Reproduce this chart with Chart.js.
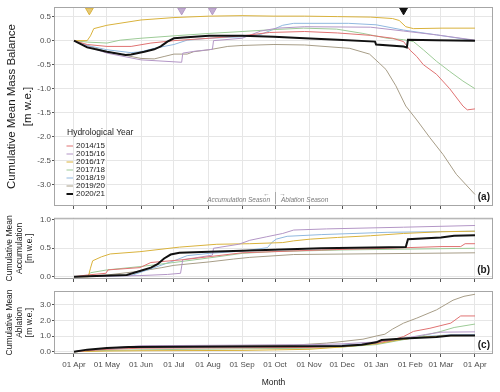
<!DOCTYPE html>
<html>
<head>
<meta charset="utf-8">
<script src="https://cdn.jsdelivr.net/npm/chart.js@4.4.1/dist/chart.umd.min.js"></script>
<style>
  html, body { margin: 0; padding: 0; background: #fff; }
  #wrap { position: relative; width: 500px; height: 392px; }
  .panel { position: absolute; left: 0; width: 500px; }
</style>
</head>
<body>
<div id="wrap">
  <div class="panel" style="top:0;height:212px"><canvas id="balanceChart"></canvas></div>
  <div class="panel" style="top:212px;height:73px"><canvas id="accumChart"></canvas></div>
  <div class="panel" style="top:285px;height:107px"><canvas id="ablationChart"></canvas></div>
</div>
<script>
// hydrological years and axis ticks
const years = ['2014/15', '2015/16', '2016/17', '2017/18', '2018/19', '2019/20', '2020/21'];
const monthDays = [0, 30, 61, 91, 122, 153, 183, 214, 244, 275, 306, 334, 365];
const monthLabels = ['01 Apr', '01 May', '01 Jun', '01 Jul', '01 Aug', '01 Sep', '01 Oct',
                     '01 Nov', '01 Dec', '01 Jan', '01 Feb', '01 Mar', '01 Apr'];
const balanceTicks = [-3, -2.5, -2, -1.5, -1, -0.5, 0, 0.5];
const accumTicks = [0, 0.5, 1];
const ablationTicks = [0, 1, 2, 3];

// days since 01 Apr -> cumulative mean mass balance [m w.e.]
const balanceDays = [
  [0, 12, 30, 52, 70, 91, 123, 153, 178, 210, 240, 270, 290, 300, 306, 312, 318, 330, 342, 354, 358, 365],
  [0, 12, 30, 61, 91, 98, 99, 110, 126, 127, 153, 170, 185, 210, 270, 300, 330, 365],
  [0, 12, 15, 18, 30, 61, 91, 123, 153, 182, 210, 240, 270, 290, 296, 302, 309, 335, 365],
  [0, 12, 30, 42, 61, 91, 123, 153, 182, 209, 239, 263, 285, 300, 309, 318, 330, 342, 354, 365],
  [0, 12, 30, 52, 61, 73, 91, 103, 123, 153, 170, 180, 190, 200, 250, 275, 300, 330, 365],
  [0, 12, 30, 61, 73, 82, 91, 103, 109, 123, 140, 153, 182, 210, 251, 269, 278, 284, 293, 302, 312, 324, 336, 348, 365],
  [0, 12, 30, 47, 52, 64, 73, 79, 85, 91, 103, 123, 153, 182, 210, 240, 274, 275, 300, 303, 304, 330, 365]
];
const balanceValues = [
  [0, -0.08, -0.12, -0.12, -0.05, 0.0, 0.05, 0.1, 0.17, 0.19, 0.16, 0.11, 0.05, -0.02, -0.2, -0.33, -0.5, -0.7, -1.0, -1.36, -1.44, -1.42],
  [0, -0.12, -0.26, -0.4, -0.44, -0.45, -0.26, -0.22, -0.18, 0.0, 0.05, 0.2, 0.26, 0.29, 0.28, 0.2, 0.12, 0.01],
  [0, 0.0, 0.1, 0.25, 0.32, 0.43, 0.48, 0.51, 0.52, 0.51, 0.51, 0.5, 0.49, 0.46, 0.42, 0.29, 0.25, 0.26, 0.26],
  [0, -0.03, -0.05, 0.01, 0.05, 0.1, 0.15, 0.19, 0.23, 0.26, 0.24, 0.15, 0.05, 0.02, -0.02, -0.19, -0.43, -0.64, -0.84, -1.0],
  [0, -0.1, -0.19, -0.25, -0.23, -0.16, -0.08, 0.01, 0.05, 0.08, 0.13, 0.22, 0.32, 0.36, 0.36, 0.33, 0.22, 0.12, 0.0],
  [0, -0.1, -0.23, -0.37, -0.38, -0.33, -0.28, -0.28, -0.23, -0.19, -0.12, -0.1, -0.08, -0.09, -0.16, -0.28, -0.47, -0.6, -0.94, -1.36, -1.65, -2.02, -2.37, -2.78, -3.2],
  [0, -0.14, -0.23, -0.3, -0.29, -0.23, -0.18, -0.12, -0.02, 0.05, 0.07, 0.1, 0.1, 0.08, 0.05, 0.02, -0.02, -0.08, -0.12, -0.14, 0.02, 0.01, 0.0]
];

// cumulative mean accumulation
const accumDays = [
  [0, 12, 29, 31, 60, 70, 100, 153, 225, 285, 335, 352, 356, 365],
  [0, 30, 60, 85, 97, 99, 110, 126, 127, 150, 160, 175, 190, 200, 230, 300, 365],
  [0, 13, 15, 17, 25, 33, 60, 96, 130, 160, 190, 200, 215, 240, 270, 300, 335, 365],
  [0, 12, 15, 30, 61, 91, 123, 153, 180, 244, 365],
  [0, 52, 73, 91, 103, 123, 153, 176, 180, 184, 194, 225, 285, 365],
  [0, 30, 61, 80, 91, 123, 145, 160, 200, 365],
  [0, 48, 60, 70, 76, 82, 88, 96, 123, 160, 225, 302, 304, 334, 346, 365]
];
const accumValues = [
  [0, 0.03, 0.06, 0.12, 0.16, 0.25, 0.3, 0.42, 0.47, 0.5, 0.53, 0.53, 0.58, 0.58],
  [0, 0.01, 0.02, 0.04, 0.06, 0.3, 0.33, 0.38, 0.5, 0.57, 0.64, 0.7, 0.76, 0.82, 0.84, 0.87, 0.9],
  [0, 0.0, 0.15, 0.28, 0.35, 0.4, 0.44, 0.52, 0.57, 0.58, 0.6, 0.63, 0.66, 0.69, 0.72, 0.76, 0.79, 0.8],
  [0, 0.01, 0.07, 0.12, 0.18, 0.25, 0.33, 0.41, 0.44, 0.47, 0.5],
  [0, 0.02, 0.16, 0.28, 0.37, 0.41, 0.45, 0.51, 0.6, 0.66, 0.71, 0.74, 0.78, 0.8],
  [0, 0.03, 0.1, 0.16, 0.2, 0.26, 0.31, 0.34, 0.39, 0.42],
  [0, 0.03, 0.1, 0.16, 0.22, 0.32, 0.39, 0.42, 0.44, 0.46, 0.5, 0.52, 0.66, 0.69, 0.72, 0.73]
];

// cumulative mean ablation
const ablationDays = [
  [0, 30, 61, 153, 214, 244, 275, 290, 300, 309, 324, 343, 352, 365],
  [0, 30, 61, 153, 214, 244, 275, 300, 320, 334, 365],
  [0, 30, 61, 153, 214, 244, 275, 300, 320, 340, 365],
  [0, 30, 61, 153, 214, 244, 275, 300, 315, 334, 346, 365],
  [0, 30, 61, 153, 214, 244, 275, 300, 320, 340, 365],
  [0, 20, 40, 60, 100, 200, 230, 244, 263, 275, 283, 290, 300, 312, 330, 345, 355, 365],
  [0, 12, 30, 50, 150, 244, 262, 275, 280, 300, 330, 343, 365]
];
const ablationValues = [
  [0, 0.15, 0.22, 0.25, 0.27, 0.35, 0.55, 0.75, 0.97, 1.3, 1.5, 1.83, 2.29, 2.29],
  [0, 0.22, 0.38, 0.42, 0.45, 0.5, 0.62, 0.85, 1.1, 1.25, 1.27],
  [0, 0.04, 0.06, 0.08, 0.15, 0.3, 0.5, 0.8, 0.95, 1.02, 1.04],
  [0, 0.08, 0.12, 0.18, 0.22, 0.3, 0.45, 0.77, 0.98, 1.3, 1.55, 1.77],
  [0, 0.15, 0.28, 0.32, 0.35, 0.42, 0.55, 0.8, 0.98, 1.07, 1.09],
  [0, 0.15, 0.25, 0.33, 0.37, 0.42, 0.55, 0.65, 0.8, 1.0, 1.12, 1.45, 1.83, 2.15, 2.68, 3.3, 3.55, 3.68],
  [0, 0.13, 0.23, 0.3, 0.33, 0.36, 0.45, 0.6, 0.75, 0.84, 0.94, 1.03, 1.04]
];

// marked events (triangles on top of panel a)
const eventDays = [14, 98, 126, 300];
const eventYear = [2, 1, 1, 6];

const colors = ['#e07272', '#b396c6', '#d9b23c', '#9dcb97', '#90b8df', '#a79d87', '#111111'];
const eventFill = ['#e6ca78', '#c2aed0', '#c2aed0', '#111111'];
const FONT = '"Liberation Sans", Arial, Helvetica, sans-serif';
Chart.defaults.font.family = FONT;

function lineSets(days, values) {
  return years.map((y, i) => ({
    label: y,
    data: days[i].map((d, j) => ({x: d, y: values[i][j]})),
    borderColor: colors[i],
    borderWidth: i === 6 ? 2 : 1,
    pointRadius: 0,
    tension: 0,
    order: i === 6 ? 0 : 1
  }));
}

function xAxis(showLabels) {
  return {
    type: 'linear',
    min: -18.2,
    max: 381.4,
    afterBuildTicks: s => { s.ticks = monthDays.map(v => ({value: v})); },
    afterFit: s => { s.height = showLabels ? 38 : 6; },
    grid: { color: '#e6e6e6', tickColor: '#555', tickLength: 3 },
    border: { display: false },
    ticks: {
      display: showLabels, autoSkip: false, maxRotation: 0, padding: 3,
      color: '#4d4d4d', font: { size: 8 },
      callback: v => monthLabels[monthDays.indexOf(v)]
    },
    title: { display: showLabels, text: 'Month', color: '#1a1a1a', font: { size: 8.5 }, padding: { top: 0, bottom: 4 } }
  };
}

function yAxis(min, max, tickVals, titleLines, size, lh, pad) {
  return {
    min: min,
    max: max,
    afterBuildTicks: s => { s.ticks = tickVals.map(v => ({value: v})); },
    afterFit: s => { s.width = 54; },
    grid: { color: '#e6e6e6', tickColor: '#555', tickLength: 2 },
    border: { display: false },
    ticks: { padding: 1, color: '#4d4d4d', font: { size: 8 }, callback: v => v.toFixed(1) },
    title: { display: true, text: titleLines, color: '#1a1a1a', font: { size: size, lineHeight: lh + 'px' }, padding: { top: pad, bottom: 0 } }
  };
}

// frame round the panel and its (a)/(b)/(c) tag
const framePlugin = {
  id: 'frame',
  afterDraw(chart, args, opts) {
    const {ctx, chartArea: a} = chart;
    ctx.save();
    ctx.strokeStyle = '#a6a6a6';
    ctx.lineWidth = 1;
    ctx.strokeRect(a.left + 0.5, a.top + 0.5, a.width - 1, a.height - 1);
    ctx.font = 'bold 10px ' + FONT;
    ctx.fillStyle = '#1a1a1a';
    ctx.textAlign = 'right';
    ctx.textBaseline = 'middle';
    ctx.fillText(opts.tag, a.right - 3, a.bottom - 9);
    ctx.restore();
  }
};

// legend + season note inside panel a
const notePlugin = {
  id: 'note',
  afterDraw(chart) {
    const {ctx} = chart;
    const x = chart.scales.x;
    ctx.save();
    ctx.fillStyle = '#1a1a1a';
    ctx.textBaseline = 'middle';
    ctx.textAlign = 'left';
    ctx.font = '8.5px ' + FONT;
    ctx.fillText('Hydrological Year', 67, 133);
    ctx.font = '8px ' + FONT;
    years.forEach((y, i) => {
      const yy = 146 + 8 * i;
      ctx.strokeStyle = colors[i];
      ctx.lineWidth = i === 6 ? 2 : 1;
      ctx.beginPath();
      ctx.moveTo(66.5, yy);
      ctx.lineTo(73, yy);
      ctx.stroke();
      ctx.fillText(y, 76, yy);
    });

    const sx = Math.round(x.getPixelForValue(183)) + 0.5;
    ctx.strokeStyle = '#aaaaaa';
    ctx.lineWidth = 1;
    ctx.beginPath();
    ctx.moveTo(sx, 192);
    ctx.lineTo(sx, 204);
    ctx.stroke();
    ctx.fillStyle = '#7a7a7a';
    ctx.font = 'italic 6.5px ' + FONT;
    ctx.textAlign = 'right';
    ctx.fillText('Accumulation Season', sx - 5.5, 200);
    ctx.textAlign = 'left';
    ctx.fillText('Ablation Season', sx + 5.5, 200);
    ctx.font = '6.5px ' + FONT;
    ctx.textAlign = 'center';
    ctx.fillText('\u2190', sx - 9, 194);
    ctx.fillText('\u2192', sx + 7, 194);
    ctx.restore();
  }
};

function baseOptions(tag, pad, showLabels, y) {
  return {
    responsive: true,
    maintainAspectRatio: false,
    animation: false,
    layout: { padding: { top: pad, right: 7, left: 0, bottom: 0 } },
    plugins: { legend: { display: false }, tooltip: { enabled: false }, frame: { tag: tag } },
    scales: { x: xAxis(showLabels), y: y }
  };
}

const eventSet = {
  label: 'events',
  data: eventDays.map(d => ({x: d, y: 0.63})),
  showLine: false,
  pointStyle: 'triangle',
  rotation: 180,
  pointRadius: 4.5,
  pointBorderWidth: 1,
  pointBackgroundColor: eventYear.map((k, i) => eventFill[i]),
  pointBorderColor: eventYear.map(k => colors[k] === '#111111' ? '#111111' : colors[k]),
  clip: false,
  order: -1
};

new Chart(document.getElementById('balanceChart'), {
  type: 'line',
  data: { datasets: lineSets(balanceDays, balanceValues).concat([eventSet]) },
  options: baseOptions('(a)', 7, false,
    yAxis(-3.44, 0.70, balanceTicks, ['Cumulative Mean Mass Balance', '[m w.e.]'], 11.5, 16.5, 3.25)),
  plugins: [framePlugin, notePlugin]
});

new Chart(document.getElementById('accumChart'), {
  type: 'line',
  data: { datasets: lineSets(accumDays, accumValues) },
  options: baseOptions('(b)', 5, false,
    yAxis(-0.04, 1.035, accumTicks, ['Cumulative Mean', 'Accumulation', '[m w.e.]'], 8.5, 9.7, 5.15)),
  plugins: [framePlugin]
});

new Chart(document.getElementById('ablationChart'), {
  type: 'line',
  data: { datasets: lineSets(ablationDays, ablationValues) },
  options: baseOptions('(c)', 6, true,
    yAxis(-0.15, 3.89, ablationTicks, ['Cumulative Mean', 'Ablation', '[m w.e.]'], 8.5, 9.7, 5.15)),
  plugins: [framePlugin]
});
</script>
</body>
</html>
